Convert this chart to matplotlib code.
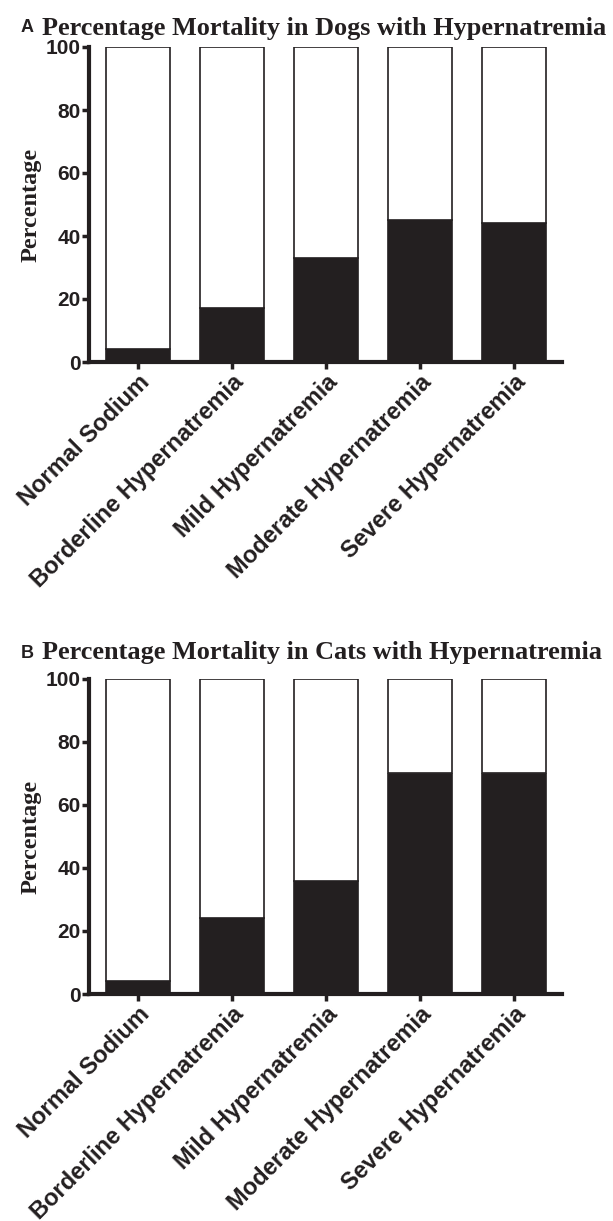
import matplotlib
matplotlib.use("Agg")
import matplotlib.pyplot as plt
import numpy as np

# categories and percentage mortality
categories = ["Normal Sodium", "Borderline Hypernatremia", "Mild Hypernatremia",
              "Moderate Hypernatremia", "Severe Hypernatremia"]
dogs_mortality = [4, 17, 33, 45, 44]
cats_mortality = [4, 24, 36, 70, 70]
yticks = [0, 20, 40, 60, 80, 100]

panels = [
    ("A", "Percentage Mortality in Dogs with Hypernatremia", dogs_mortality),
    ("B", "Percentage Mortality in Cats with Hypernatremia", cats_mortality),
]

W, H = 613, 1221
fig = plt.figure(figsize=(W / 100, H / 100), dpi=100)
dark = "#231f20"

# axes boxes in pixels: left, right, y of 0, y of 100
boxes = [(89, 562, 362, 47), (89, 562, 994, 679)]
title_y = [28, 653]

for (letter, title, vals), (l, r, y0, y1), ty in zip(panels, boxes, title_y):
    ax = fig.add_axes([l / W, 1 - y0 / H, (r - l) / W, (y0 - y1) / H])
    x = np.arange(len(categories))
    vals = np.array(vals)
    ax.bar(x, vals, width=0.68, color=dark, edgecolor=dark, linewidth=1.2)
    ax.bar(x, 100 - vals, bottom=vals, width=0.68, color="white",
           edgecolor=dark, linewidth=1.2)
    ax.set_xlim(-0.52, 4.51)
    ax.set_ylim(0, 100)
    ax.set_yticks(yticks)
    ax.set_xticks(x)
    ax.set_xticklabels(categories, rotation=45, ha="right", rotation_mode="anchor",
                       fontsize=17, fontweight="bold", family="Liberation Sans",
                       color=dark)
    for t in ax.get_yticklabels():
        t.set_fontsize(15)
        t.set_fontweight("bold")
        t.set_family("Liberation Sans")
        t.set_color(dark)
    for s in ["top", "right"]:
        ax.spines[s].set_visible(False)
    for s in ["left", "bottom"]:
        ax.spines[s].set_linewidth(3)
        ax.spines[s].set_color(dark)
    ax.tick_params(axis="both", direction="out", length=5, width=2.5, color=dark, pad=1)
    ax.set_ylabel("Percentage", fontsize=17.5, fontweight="bold",
                  family="Liberation Serif", color=dark)
    ax.yaxis.set_label_coords(-0.1, 0.5)

    fig.text(21 / W, 1 - ty / H, letter, fontsize=13, fontweight="bold",
             family="Liberation Sans", color=dark, va="center", ha="left")
    fig.text(42 / W, 1 - ty / H, title, fontsize=18.9, fontweight="bold",
             family="Liberation Serif", color=dark, va="center", ha="left")

fig.savefig("out.png", dpi=100)
